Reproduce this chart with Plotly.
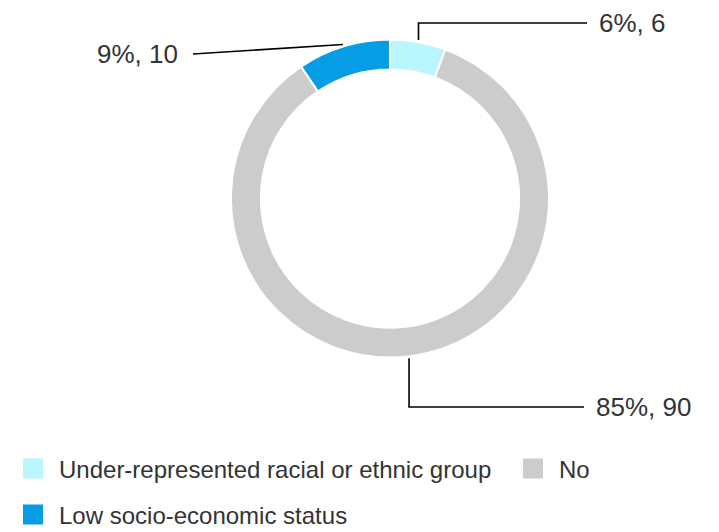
import math
import plotly.graph_objects as go

# ---- data ----
labels = ["Under-represented racial or ethnic group", "No", "Low socio-economic status"]
values = [6, 90, 10]
colors = ["#BAF6FD", "#CCCCCC", "#079DE4"]

# ---- layout constants ----
W, H = 719, 532
CX, CY, R = 390.0, 198.5, 159.0
HOLE = 0.812
FONT = "Liberation Sans, Arial, sans-serif"
TXT = "#333333"

# label placement: (label y, line end x, side, elbow)
label_layout = [
    (23, 587, "right", True),
    (407, 584, "right", True),
    (54, 193, "left", False),
]
# legend rows: (x px of item start, y px of row centre)
legend_pos = [(7, 469), (507, 469), (7, 515)]

total = sum(values)

fig = go.Figure()

# invisible pixel-space axes for leader lines
fig.update_layout(
    xaxis=dict(range=[0, W], visible=False, domain=[0, 1], fixedrange=True),
    yaxis=dict(range=[H, 0], visible=False, domain=[0, 1], fixedrange=True),
)

fig.add_trace(go.Pie(
    labels=labels, values=values, sort=False, direction="clockwise", rotation=0,
    hole=HOLE, textinfo="none", hoverinfo="skip", showlegend=False,
    marker=dict(colors=colors, line=dict(color="white", width=2)),
    domain=dict(x=[(CX - R) / W, (CX + R) / W],
                y=[(H - CY - R) / H, (H - CY + R) / H]),
))

cum = 0
annotations = []
for i, v in enumerate(values):
    mid = (cum + v / 2) / total * 2 * math.pi
    cum += v
    rs = R + 2
    sx = CX + rs * math.sin(mid)
    sy = CY - rs * math.cos(mid)
    ly, ex, side, elbow = label_layout[i]
    if elbow:
        xs, ys = [sx, sx, ex], [sy, ly, ly]
    else:
        xs, ys = [sx, ex], [sy, ly]
    fig.add_trace(go.Scatter(x=xs, y=ys, mode="lines", showlegend=False,
                             hoverinfo="skip", line=dict(color="black", width=1.6)))
    pct = round(v / total * 100)
    annotations.append(dict(
        x=ex + (10 if side == "right" else -13), y=ly, xref="x", yref="y",
        text=f"{pct}%, {v}", showarrow=False,
        xanchor="left" if side == "right" else "right", yanchor="middle",
        font=dict(size=26, color=TXT, family=FONT),
    ))

# legend entries
legend_layouts = {}
for i, lab in enumerate(labels):
    name = "legend" if i == 0 else f"legend{i + 1}"
    fig.add_trace(go.Scatter(x=[None], y=[None], mode="markers", name=lab,
                             legend=name, showlegend=True,
                             marker=dict(symbol="square", size=16, color=colors[i],
                                         line=dict(color=colors[i], width=4))))
    lx, lyy = legend_pos[i]
    legend_layouts[name] = dict(x=lx / W, y=1 - lyy / H, xref="container", yref="container",
                                xanchor="left", yanchor="middle",
                                orientation="h", bgcolor="rgba(0,0,0,0)",
                                itemwidth=42,
                                font=dict(size=24, color=TXT, family=FONT))

fig.update_layout(
    width=W, height=H, margin=dict(l=0, r=0, t=0, b=0, autoexpand=False),
    paper_bgcolor="white", plot_bgcolor="white",
    annotations=annotations, **legend_layouts,
)

fig.write_html("out.html")
